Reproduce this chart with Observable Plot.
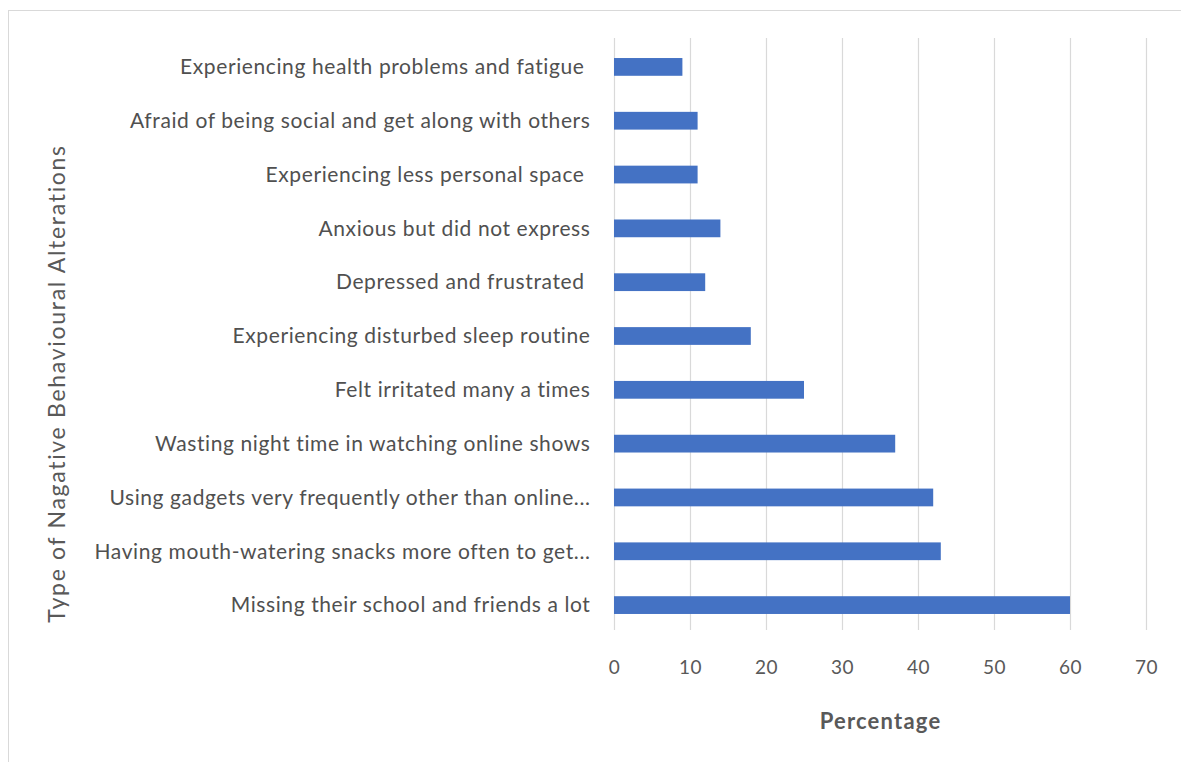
<!DOCTYPE html>
<html>
<head>
<meta charset="utf-8">
<script src="https://cdn.jsdelivr.net/npm/d3@7"></script>
<script src="https://cdn.jsdelivr.net/npm/@observablehq/plot@0.6"></script>
<style>
  html, body { margin: 0; padding: 0; background: #fff; }
  #wrap { position: relative; width: 1181px; height: 762px; overflow: hidden; }
  #frame { position: absolute; left: 8px; top: 10px; width: 1200px; height: 800px; border: 1px solid #d9d9d9; pointer-events: none; }
  svg { font-family: Lato, "Open Sans", sans-serif; }
  svg g[aria-label="y-axis tick label"] text { letter-spacing: 0.6px; }
  svg g[aria-label="x-axis tick label"] text { letter-spacing: 0.5px; }
  svg g.xtitle text { letter-spacing: 1.2px; }
  svg g.ytitle text { letter-spacing: 1.7px; }
</style>
</head>
<body>
<div id="wrap"><div id="frame"></div></div>
<script>
const categories = [
  "Experiencing health problems and fatigue\u00a0",
  "Afraid of being social and get along with others",
  "Experiencing less personal space\u00a0",
  "Anxious but did not express",
  "Depressed and frustrated\u00a0",
  "Experiencing disturbed sleep routine",
  "Felt irritated many a times",
  "Wasting night time in watching online shows",
  "Using gadgets very frequently other than online...",
  "Having mouth-watering snacks more often to get...",
  "Missing their school and friends a lot"
];
const values = [9, 11, 11, 14, 12, 18, 25, 37, 42, 43, 60];
const xTicks = [0, 10, 20, 30, 40, 50, 60, 70];
const xTitle = "Percentage";
const yTitle = "Type of Nagative Behavioural Alterations";

const data = categories.map((c, i) => ({category: c, value: values[i]}));

const chart = Plot.plot({
  width: 1181,
  height: 762,
  marginLeft: 614,
  marginRight: 35,
  marginTop: 40,
  marginBottom: 130,
  style: {fontFamily: "Lato, sans-serif", background: "transparent"},
  x: {domain: [0, 70]},
  y: {domain: categories, paddingInner: 0.67, paddingOuter: 0.335, round: false},
  marks: [
    Plot.gridX(xTicks, {stroke: "#d9d9d9", strokeOpacity: 1, strokeWidth: 1.2, insetTop: -2, insetBottom: 2}),
    Plot.axisX(xTicks, {tickSize: 0, tickPadding: 28, fontSize: 19, fill: "#595959", label: null}),
    Plot.axisY({tickSize: 0, tickPadding: 24, fontSize: 21, fill: "#505050", label: null}),
    Plot.barX(data, {x: "value", y: "category", fill: "#4472c4"}),
    Plot.text([xTitle], {text: d => d, frameAnchor: "bottom", dy: 96, fontSize: 22, fontWeight: "bold", fill: "#595959", className: "xtitle"}),
    Plot.text([yTitle], {text: d => d, frameAnchor: "left", textAnchor: "middle", dx: -557, dy: 47, rotate: -90, fontSize: 23, fill: "#595959", className: "ytitle"})
  ]
});
document.getElementById("wrap").prepend(chart);
</script>
</body>
</html>
